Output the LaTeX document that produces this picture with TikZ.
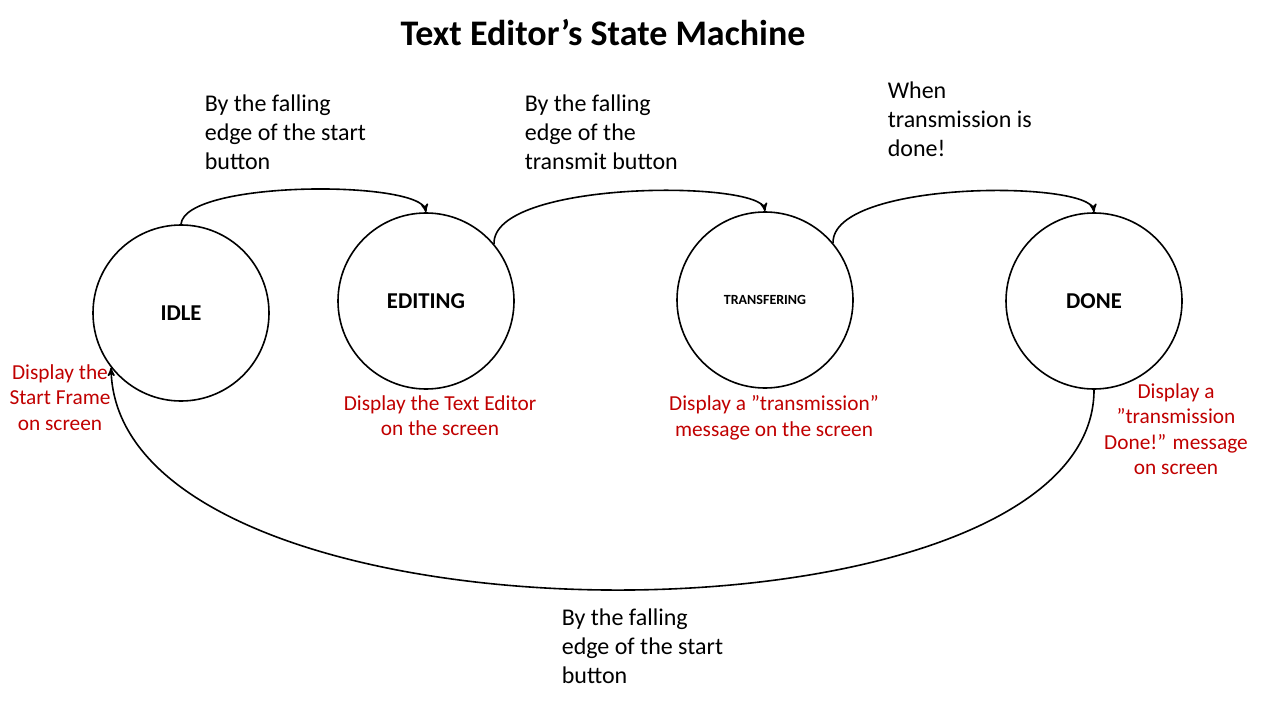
\documentclass[tikz,border=0pt]{standalone}
\usepackage{fontspec}
\setmainfont{Carlito}
\usetikzlibrary{arrows}
\definecolor{note_red}{RGB}{192,0,0}
\begin{document}
\begin{tikzpicture}[x=0.75pt,y=-0.75pt,->,semithick,>=stealth',line width=1.2pt]
    \tikzstyle{state}=[draw=black, circle, minimum size=132pt, inner sep=0pt, font=\fontsize{17}{20}\selectfont\bfseries]
    \tikzstyle{cond}=[align=left, anchor=north west, inner sep=0pt, font=\fontsize{18}{21.75}\selectfont]
    \tikzstyle{note}=[align=center, anchor=north, inner sep=0pt, text=note_red, font=\fontsize{16}{19}\selectfont]
    \useasboundingbox (0,0) rectangle (1280,720);

    \node[font=\fontsize{27}{30}\selectfont\bfseries] (title) at (603,33) {Text Editor’s State Machine};

    \node[state] (idle)  at (181,313)  {IDLE};
    \node[state] (edit)  at (426,301)  {EDITING};
    \node[state,font=\fontsize{10.5}{12}\selectfont\bfseries] (trans) at (765,300) {TRANSFERING};
    \node[state] (done)  at (1094,301) {DONE};

    \node[cond] (c1) at (204,94)  {By the falling\\edge of the start\\button};
    \node[cond] (c2) at (524,94)  {By the falling\\edge of the\\transmit button};
    \node[cond] (c3) at (887,81)  {When\\transmission is\\done!};
    \node[cond] (c4) at (561,608) {By the falling\\edge of the start\\button};

    \node[note] (n1) at (60,364)   {Display the\\Start Frame\\on screen};
    \node[note] (n2) at (440,395)  {Display the Text Editor\\on the screen};
    \node[note] (n3) at (774,395)  {Display a ”transmission”\\message on the screen};
    \node[note] (n4) at (1176,383) {Display a\\”transmission\\Done!” message\\on screen};

    \draw (idle.north) .. controls (185,180) and (420,180) .. (edit.north);
    \draw (edit.40) .. controls (492,180) and (760,180) .. (trans.north);
    \draw (trans.40) .. controls (832,180) and (1090,180) .. (done.north);
    \draw (done.south) .. controls (1094,660) and (118,660) .. (idle.218);
\end{tikzpicture}
\end{document}
